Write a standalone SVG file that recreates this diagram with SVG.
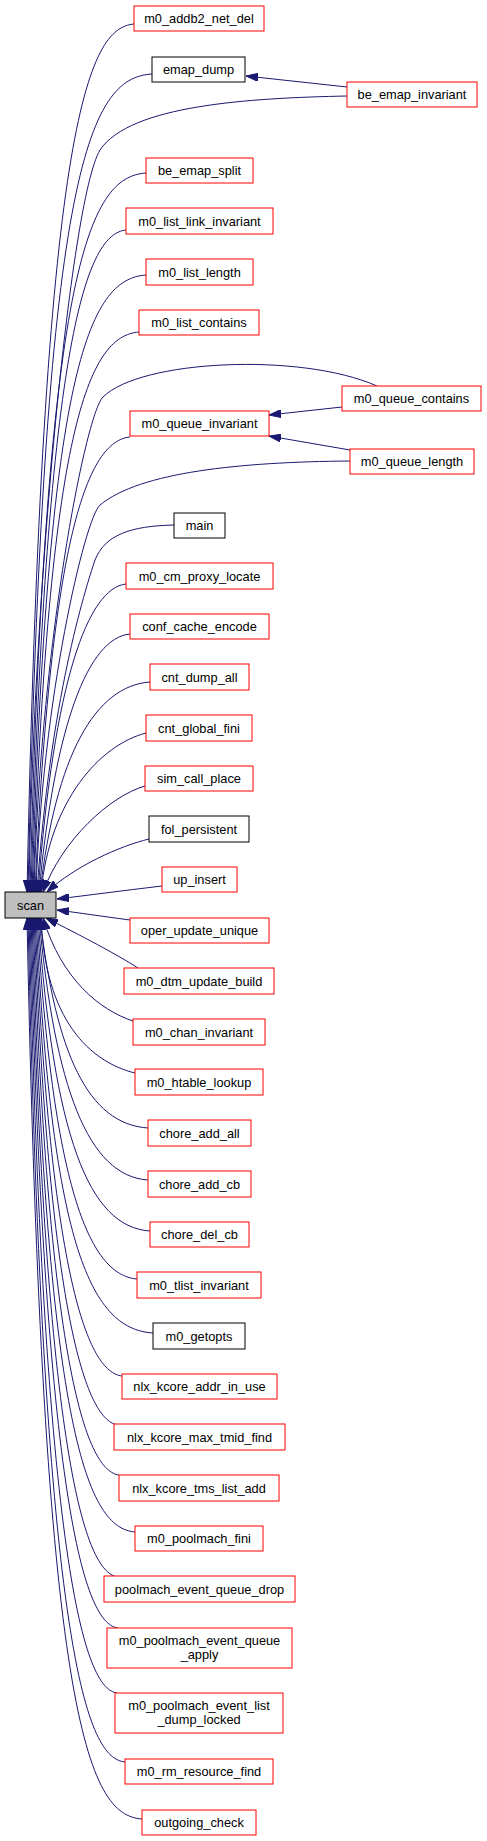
<svg xmlns="http://www.w3.org/2000/svg" width="487" height="1841" viewBox="0 0 487 1841">
<style>
rect{fill:#fff;stroke:#ff0000;stroke-width:1}
.k rect{stroke:#000}
.s rect{fill:#bfbfbf;stroke:#000}
text{font-family:"Liberation Sans",Arial,Helvetica,sans-serif;font-size:12.8px;text-anchor:middle;fill:#000}
#edges path{fill:none;stroke:#191970;stroke-width:1;marker-end:url(#arr)}
</style>
<defs>
<marker id="arr" viewBox="0 0 12 8" refX="12" refY="4" markerWidth="12" markerHeight="8" markerUnits="userSpaceOnUse" orient="auto">
<path d="M0,0 L12,4 L0,8 z" fill="#191970" stroke="#191970" stroke-width="1"/>
</marker>
</defs>
<rect x="0" y="0" width="487" height="1841" style="fill:#fff;stroke:none"/>
<g id="edges">
<path d="M134,24 C88,28 43,120 27,892"/>
<path d="M152,74 C88,78 44,170 28,892"/>
<path d="M347,96 C250,98 130,105 100,150 C70,200 33,600 29,892"/>
<path d="M146,173 C88,177 46,269 30,892"/>
<path d="M126,230 C88,234 47,326 31,892"/>
<path d="M146,275 C88,279 48,371 32,892"/>
<path d="M139,332 C88,336 49,428 33,892"/>
<path d="M377,386 C300,352 140,360 103,397 C85,415 40,650 34,892"/>
<path d="M130,437 C88,441 51,533 35,892"/>
<path d="M350,461 C240,462 140,472 100,505 C85,518 42,700 36,892"/>
<path d="M174,525 C130,526 105,535 95,560 C85,590 50,700 37,892"/>
<path d="M126,584 C88,588 54,680 38,892"/>
<path d="M130,634 C88,638 55,724 39,892"/>
<path d="M150,682 C95,686 56,755 40,892"/>
<path d="M146,733 C100,745 50,800 41,892"/>
<path d="M145,786 C110,796 62,840 43,892"/>
<path d="M149,839 C120,846 75,866 47,892"/>
<path d="M162,886 C120,891 90,895 57,899"/>
<path d="M130,920 C100,916 80,913 57,910"/>
<path d="M138,968 C118,955 80,935 46,918"/>
<path d="M133,1021 C100,1010 62,980 43,918"/>
<path d="M135,1073 C90,1062 45,1020 41,918"/>
<path d="M148,1128 C88,1124 56,1054 40,918"/>
<path d="M148,1180 C88,1176 55,1088 39,918"/>
<path d="M150,1231 C88,1227 54,1135 38,918"/>
<path d="M137,1279 C88,1275 53,1183 37,918"/>
<path d="M153,1333 C88,1329 52,1237 36,918"/>
<path d="M122,1376 C88,1372 51,1280 35,918"/>
<path d="M118,1425 C88,1421 50,1329 34,918"/>
<path d="M119,1475 C88,1471 49,1379 33,918"/>
<path d="M135,1532 C88,1528 48,1436 32,918"/>
<path d="M118,1577 C88,1573 47,1481 31,918"/>
<path d="M118,1628 C88,1624 46,1532 30,918"/>
<path d="M117,1693 C88,1689 45,1597 29,918"/>
<path d="M125,1762 C88,1758 44,1666 28,918"/>
<path d="M142,1819 C88,1815 43,1723 27,918"/>
<path d="M347,87 L246,76"/>
<path d="M342,407 L269,415"/>
<path d="M350,450 L269,436"/>
</g>
<g id="n_m0_addb2_net_del"><rect x="134" y="6" width="130" height="25"/><text x="199" y="23">m0_addb2_net_del</text></g>
<g id="n_emap_dump" class="k"><rect x="152" y="57" width="93" height="25"/><text x="198.5" y="74">emap_dump</text></g>
<g id="n_be_emap_invariant"><rect x="347" y="82" width="130" height="25"/><text x="412" y="99">be_emap_invariant</text></g>
<g id="n_be_emap_split"><rect x="146" y="158" width="107" height="25"/><text x="199.5" y="175">be_emap_split</text></g>
<g id="n_m0_list_link_invariant"><rect x="126" y="208" width="147" height="26"/><text x="199.5" y="225.5">m0_list_link_invariant</text></g>
<g id="n_m0_list_length"><rect x="146" y="259" width="107" height="26"/><text x="199.5" y="276.5">m0_list_length</text></g>
<g id="n_m0_list_contains"><rect x="139" y="310" width="120" height="25"/><text x="199" y="327">m0_list_contains</text></g>
<g id="n_m0_queue_contains"><rect x="342" y="386" width="139" height="25"/><text x="411.5" y="403">m0_queue_contains</text></g>
<g id="n_m0_queue_invariant"><rect x="130" y="411" width="139" height="25"/><text x="199.5" y="428">m0_queue_invariant</text></g>
<g id="n_m0_queue_length"><rect x="350" y="449" width="124" height="25"/><text x="412" y="466">m0_queue_length</text></g>
<g id="n_main" class="k"><rect x="174" y="513" width="51" height="25"/><text x="199.5" y="530">main</text></g>
<g id="n_m0_cm_proxy_locate"><rect x="126" y="563" width="147" height="26"/><text x="199.5" y="580.5">m0_cm_proxy_locate</text></g>
<g id="n_conf_cache_encode"><rect x="130" y="614" width="139" height="25"/><text x="199.5" y="631">conf_cache_encode</text></g>
<g id="n_cnt_dump_all"><rect x="150" y="664" width="99" height="26"/><text x="199.5" y="681.5">cnt_dump_all</text></g>
<g id="n_cnt_global_fini"><rect x="146" y="715" width="106" height="26"/><text x="199" y="732.5">cnt_global_fini</text></g>
<g id="n_sim_call_place"><rect x="145" y="766" width="108" height="25"/><text x="199" y="783">sim_call_place</text></g>
<g id="n_fol_persistent" class="k"><rect x="149" y="816" width="100" height="26"/><text x="199" y="833.5">fol_persistent</text></g>
<g id="n_up_insert"><rect x="162" y="867" width="75" height="25"/><text x="199.5" y="884">up_insert</text></g>
<g id="n_scan" class="s"><rect x="5" y="892" width="51" height="26"/><text x="30.5" y="909.5">scan</text></g>
<g id="n_oper_update_unique"><rect x="130" y="918" width="139" height="25"/><text x="199.5" y="935">oper_update_unique</text></g>
<g id="n_m0_dtm_update_build"><rect x="124" y="968" width="150" height="26"/><text x="199" y="985.5">m0_dtm_update_build</text></g>
<g id="n_m0_chan_invariant"><rect x="133" y="1019" width="132" height="26"/><text x="199" y="1036.5">m0_chan_invariant</text></g>
<g id="n_m0_htable_lookup"><rect x="135" y="1069" width="128" height="26"/><text x="199" y="1086.5">m0_htable_lookup</text></g>
<g id="n_chore_add_all"><rect x="148" y="1120" width="103" height="26"/><text x="199.5" y="1137.5">chore_add_all</text></g>
<g id="n_chore_add_cb"><rect x="148" y="1171" width="103" height="26"/><text x="199.5" y="1188.5">chore_add_cb</text></g>
<g id="n_chore_del_cb"><rect x="150" y="1222" width="99" height="25"/><text x="199.5" y="1239">chore_del_cb</text></g>
<g id="n_m0_tlist_invariant"><rect x="137" y="1272" width="124" height="26"/><text x="199" y="1289.5">m0_tlist_invariant</text></g>
<g id="n_m0_getopts" class="k"><rect x="153" y="1323" width="92" height="26"/><text x="199" y="1340.5">m0_getopts</text></g>
<g id="n_nlx_kcore_addr_in_use"><rect x="122" y="1374" width="155" height="25"/><text x="199.5" y="1391">nlx_kcore_addr_in_use</text></g>
<g id="n_nlx_kcore_max_tmid_find"><rect x="114" y="1424" width="171" height="26"/><text x="199.5" y="1441.5">nlx_kcore_max_tmid_find</text></g>
<g id="n_nlx_kcore_tms_list_add"><rect x="119" y="1475" width="160" height="26"/><text x="199" y="1492.5">nlx_kcore_tms_list_add</text></g>
<g id="n_m0_poolmach_fini"><rect x="135" y="1526" width="128" height="25"/><text x="199" y="1543">m0_poolmach_fini</text></g>
<g id="n_poolmach_event_queue_drop"><rect x="104" y="1576" width="191" height="26"/><text x="199.5" y="1593.5">poolmach_event_queue_drop</text></g>
<g id="n_m0_poolmach_event_queue_apply"><rect x="107" y="1628" width="185" height="40"/><text x="199.5" y="1644.5">m0_poolmach_event_queue</text><text x="199.5" y="1659">_apply</text></g>
<g id="n_m0_poolmach_event_list_dump_locked"><rect x="115" y="1693" width="168" height="40"/><text x="199" y="1709.5">m0_poolmach_event_list</text><text x="199" y="1723.5">_dump_locked</text></g>
<g id="n_m0_rm_resource_find"><rect x="125" y="1759" width="148" height="25"/><text x="199" y="1776">m0_rm_resource_find</text></g>
<g id="n_outgoing_check"><rect x="142" y="1810" width="114" height="25"/><text x="199" y="1827">outgoing_check</text></g>
</svg>
